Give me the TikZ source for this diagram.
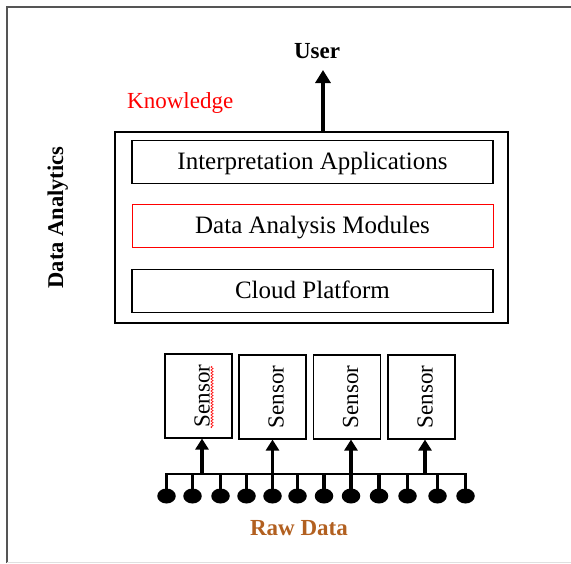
\documentclass[tikz,border=0pt]{standalone}
\usepackage{fontspec}
\setmainfont{Liberation Serif}
\usetikzlibrary{arrows.meta,decorations.pathmorphing,shapes.geometric}
\definecolor{rawbrown}{RGB}{178,96,32}
\definecolor{frameGray}{RGB}{85,85,85}
\begin{document}
\begin{tikzpicture}[x=1pt,y=-1pt,
  layerbox/.style={draw, line width=1.2pt, minimum width=361pt, minimum height=43pt, inner sep=0pt,
    text height=15pt, text depth=0pt, font=\fontsize{25}{27}\selectfont},
  sensorbox/.style={draw, line width=1.1pt, minimum width=67pt, minimum height=84pt, inner sep=0pt},
  sensortext/.style={rotate=90, anchor=base, inner sep=0pt, font=\fontsize{23}{25}\selectfont},
  dot/.style={ellipse, fill=black, minimum width=18.5pt, minimum height=15pt, inner sep=0pt},
  bigarrow/.style={line width=4.5pt, -{Triangle[width=15pt,length=13pt]}},
  sarrow/.style={line width=3.5pt, -{Triangle[width=13pt,length=11pt]}},
  drop/.style={line width=3.8pt},
  busline/.style={line width=2.5pt, line cap=rect}
]
\useasboundingbox (0,0) rectangle (571,563);
% frame
\draw[frameGray, line width=2pt] (7,563) -- (7,7) -- (572,7);
\draw[black!12, line width=1pt] (7,562) -- (572,562);

% top part
\node[font=\fontsize{23}{25}\selectfont\bfseries, anchor=base, inner sep=0pt] (user) at (317,58) {User};
\node[font=\fontsize{23}{25}\selectfont, text=red, anchor=base west, inner sep=0pt] (know) at (127,108) {Knowledge};
\node[font=\fontsize{22.5}{25}\selectfont\bfseries, rotate=90, anchor=base, inner sep=0pt] (da) at (63,217.5) {Data Analytics};

\node[draw, line width=1.3pt, minimum width=393pt, minimum height=191pt, inner sep=0pt] (outer) at (311.5,227.5) {};
\node[layerbox] (interp) at (312.5,162) {Interpretation Applications};
\node[layerbox, draw=red, line width=1pt] (analysis) at (312.5,226) {Data Analysis Modules};
\node[layerbox] (cloud) at (312.5,291) {Cloud Platform};

\coordinate (ua) at (323,70);
\draw[bigarrow] (ua |- outer.north) -- (ua);

% sensors
\node[sensorbox] (s1) at (198.5,396) {};
\node[sensorbox] (s2) at (272.5,397) {};
\node[sensorbox] (s3) at (347,397) {};
\node[sensorbox] (s4) at (421.5,397) {};
\foreach \s in {s1,s2,s3,s4}{
  \node[sensortext] at ([xshift=11pt]\s.center) {Sensor};
}
\draw[red, line width=0.6pt, decorate, decoration={snake, amplitude=1.1pt, segment length=3pt}]
  ([xshift=13.5pt,yshift=-32pt]s1.center) -- ([xshift=13.5pt,yshift=30pt]s1.center);

% raw data dots
\foreach \i/\x in {1/166.5,2/192.5,3/220.5,4/246.5,5/272.5,6/297.5,7/324,8/351,9/379,10/407.5,11/437.5,12/465.5}{
  \node[dot] (d\i) at (\x,496) {};
}
\coordinate (busy) at (0,474);
\draw[busline] (d1.center |- busy) -- (d12.center |- busy);
\foreach \i in {1,...,12}{
  \draw[drop] ([yshift=1pt]d\i.center |- busy) -- (d\i.center);
}

% sensor arrows
\coordinate (b1) at (202,474);
\coordinate (b2) at (272.5,474);
\coordinate (b3) at (351,474);
\coordinate (b4) at (425,474);
\draw[sarrow] (b1) -- (b1 |- s1.south);
\draw[sarrow] (b2) -- (b2 |- s2.south);
\draw[sarrow] (b3) -- (b3 |- s3.south);
\draw[sarrow] (b4) -- (b4 |- s4.south);

\node[font=\fontsize{23}{25}\selectfont\bfseries, text=rawbrown, anchor=base, inner sep=0pt] (raw) at (299,535) {Raw Data};
\end{tikzpicture}
\end{document}
